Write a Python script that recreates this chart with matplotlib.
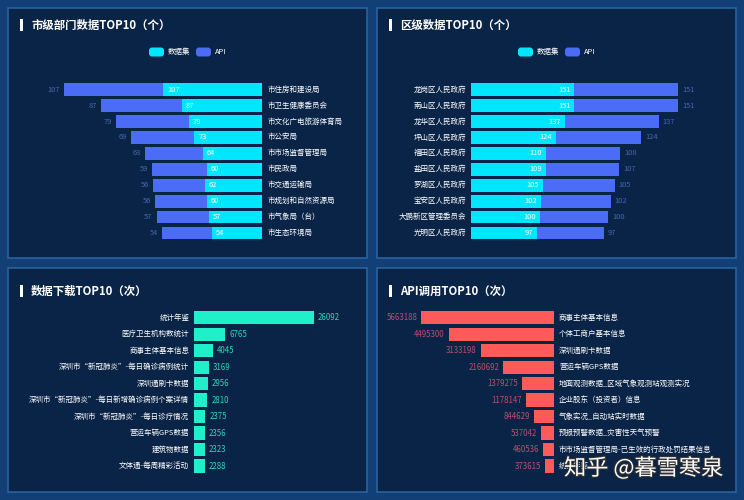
import matplotlib
matplotlib.use("Agg")
import matplotlib.pyplot as plt
from matplotlib.patches import Rectangle, FancyBboxPatch
from matplotlib.transforms import IdentityTransform
import matplotlib.patheffects as pe

plt.rcParams['font.family'] = ['Noto Sans CJK SC', 'DejaVu Sans']

# ---------------- data ----------------
city_depts = ["市住房和建设局", "市卫生健康委员会", "市文化广电旅游体育局", "市公安局",
              "市市场监督管理局", "市民政局", "市交通运输局", "市规划和自然资源局",
              "市气象局（台）", "市生态环境局"]
city_dataset = [107, 87, 79, 73, 64, 60, 62, 60, 57, 54]
city_api = [107, 87, 79, 69, 63, 59, 56, 56, 57, 54]

districts = ["龙岗区人民政府", "南山区人民政府", "龙华区人民政府", "坪山区人民政府",
             "福田区人民政府", "盐田区人民政府", "罗湖区人民政府", "宝安区人民政府",
             "大鹏新区管理委员会", "光明区人民政府"]
dist_dataset = [151, 151, 137, 124, 110, 109, 105, 102, 100, 97]
dist_api = [151, 151, 137, 124, 108, 107, 105, 102, 100, 97]

download_names = ["统计年鉴", "医疗卫生机构数统计", "商事主体基本信息",
                  "深圳市“新冠肺炎”-每日确诊病例统计", "深圳通刷卡数据",
                  "深圳市“新冠肺炎”-每日新增确诊病例个案详情",
                  "深圳市“新冠肺炎”-每日诊疗情况", "营运车辆GPS数据", "建筑物数据",
                  "文体通-每周精彩活动"]
download_counts = [26092, 6765, 4045, 3169, 2956, 2810, 2375, 2356, 2323, 2288]

api_names = ["商事主体基本信息", "个体工商户基本信息", "深圳通刷卡数据", "营运车辆GPS数据",
             "地面观测数据_区域气象观测站观测实况", "企业股东（投资者）信息",
             "气象实况_自动站实时数据", "预报预警数据_灾害性天气预警",
             "市市场监督管理局-已生效的行政处罚结果信息", "统计年鉴"]
api_counts = [5663188, 4495300, 3133198, 2160692, 1379275, 1178147, 844629, 537042,
              460536, 373615]

titles = ["市级部门数据TOP10（个）", "区级数据TOP10（个）", "数据下载TOP10（次）", "API调用TOP10（次）"]
legend_labels = ["数据集", "API"]

# ---------------- style ----------------
W, H = 744, 500
BG_OUT = '#123f76'
BG_PANEL = '#0a2447'
EDGE = '#2a62a0'
CYAN = '#00e6ff'
BLUE = '#4b6cf6'
BLUE_TXT = '#4866ac'
TEAL = '#1ff0c9'
TEAL_TXT = '#2ad6b8'
RED = '#ff5a5a'
RED_TXT = '#b8506a'
WHITE = '#ffffff'
FS = 5.4

fig = plt.figure(figsize=(W / 100, H / 100), dpi=100)
fig.patch.set_facecolor(BG_OUT)
ID = IdentityTransform()


def rect_px(x0, y0, x1, y1, **kw):
    p = Rectangle((x0, H - y1), x1 - x0, y1 - y0, transform=ID, **kw)
    fig.patches.append(p)


def axes_px(l, t, r, b):
    ax = fig.add_axes([l / W, 1 - b / H, (r - l) / W, (b - t) / H])
    ax.set_facecolor('none')
    ax.axis('off')
    ax.set_zorder(2)
    return ax


def text_px(x, y, s, **kw):
    fig.text(x / W, 1 - y / H, s, **kw)


panels = [(8, 8, 367, 258), (377, 8, 736, 258), (8, 268, 367, 492), (377, 268, 736, 492)]
for (x0, y0, x1, y1) in panels:
    rect_px(x0, y0, x1, y1, facecolor=BG_PANEL, edgecolor=EDGE, linewidth=1.2, zorder=-5)

title_pos = [(31, 25), (400, 25), (31, 291), (400, 291)]
for (tx, ty), t in zip(title_pos, titles):
    rect_px(tx - 11, ty - 6, tx - 8, ty + 6, facecolor=WHITE, edgecolor='none', zorder=1)
    text_px(tx, ty, t, color=WHITE, fontsize=8.2, fontweight='bold', va='center', ha='left')


def legend(x, y):
    for dx, col, lab in [(0, CYAN, legend_labels[0]), (47, BLUE, legend_labels[1])]:
        p = FancyBboxPatch((x + dx, H - y - 4.5), 15, 9, boxstyle="round,pad=0,rounding_size=3",
                           transform=ID, facecolor=col, edgecolor='none', zorder=1)
        fig.patches.append(p)
        text_px(x + dx + 19, y, lab, color=WHITE, fontsize=FS, va='center', ha='left')


legend(149, 52)
legend(518, 52)

n = 10
ypos = list(range(n))

# ---------- chart 1 : city departments (bars to the left) ----------
s1 = 0.925
ax1 = axes_px(262 - 250 * s1, 89.7 - 7.97, 262, 233 + 7.97)
ax1.set_xlim(250, 0)
ax1.set_ylim(n - 0.5, -0.5)
ax1.barh(ypos, city_dataset, height=0.8, color=CYAN)
ax1.barh(ypos, city_api, left=city_dataset, height=0.8, color=BLUE)
for i in range(n):
    ax1.annotate(str(city_dataset[i]), (city_dataset[i], i), xytext=(4, 0), textcoords='offset pixels',
                 ha='left', va='center', color=WHITE, fontsize=FS)
    ax1.annotate(str(city_api[i]), (city_dataset[i] + city_api[i], i), xytext=(-4, 0),
                 textcoords='offset pixels', ha='right', va='center', color=BLUE_TXT, fontsize=FS)
    ax1.annotate(city_depts[i], (0, i), xytext=(6, 0), textcoords='offset pixels',
                 ha='left', va='center', color=WHITE, fontsize=FS, annotation_clip=False)

# ---------- chart 2 : districts (bars to the right) ----------
s2 = 0.685
ax2 = axes_px(471, 89.7 - 7.97, 471 + 320 * s2, 233 + 7.97)
ax2.set_xlim(0, 320)
ax2.set_ylim(n - 0.5, -0.5)
ax2.barh(ypos, dist_dataset, height=0.8, color=CYAN)
ax2.barh(ypos, dist_api, left=dist_dataset, height=0.8, color=BLUE)
for i in range(n):
    ax2.annotate(str(dist_dataset[i]), (dist_dataset[i], i), xytext=(-4, 0), textcoords='offset pixels',
                 ha='right', va='center', color=WHITE, fontsize=FS)
    ax2.annotate(str(dist_api[i]), (dist_dataset[i] + dist_api[i], i), xytext=(4, 0),
                 textcoords='offset pixels', ha='left', va='center', color=BLUE_TXT, fontsize=FS)
    ax2.annotate(districts[i], (0, i), xytext=(-5, 0), textcoords='offset pixels',
                 ha='right', va='center', color=WHITE, fontsize=FS, annotation_clip=False)

# ---------- chart 3 : downloads ----------
s3 = 0.004576
rs = 16.48
ax3 = axes_px(194.3, 317.7 - rs / 2, 194.3 + 30000 * s3, 466 + rs / 2)
ax3.set_xlim(0, 30000)
ax3.set_ylim(n - 0.5, -0.5)
ax3.barh(ypos, download_counts, height=0.8, color=TEAL)
for i in range(n):
    ax3.annotate(str(download_counts[i]), (download_counts[i], i), xytext=(4, 0),
                 textcoords='offset pixels', ha='left', va='center', color=TEAL_TXT, fontsize=FS + 0.3)
    ax3.annotate(download_names[i], (0, i), xytext=(-5, 0), textcoords='offset pixels',
                 ha='right', va='center', color=WHITE, fontsize=FS, annotation_clip=False)

# ---------- chart 4 : API calls (bars to the left) ----------
s4 = 2.345e-5
ax4 = axes_px(554 - 6.0e6 * s4, 317.7 - rs / 2, 554, 466 + rs / 2)
ax4.set_xlim(6.0e6, 0)
ax4.set_ylim(n - 0.5, -0.5)
ax4.barh(ypos, api_counts, height=0.8, color=RED)
for i in range(n):
    ax4.annotate(str(api_counts[i]), (api_counts[i], i), xytext=(-4, 0),
                 textcoords='offset pixels', ha='right', va='center', color=RED_TXT, fontsize=FS + 0.3,
                 annotation_clip=False)
    ax4.annotate(api_names[i], (0, i), xytext=(5, 0), textcoords='offset pixels',
                 ha='left', va='center', color=WHITE, fontsize=FS, annotation_clip=False)

# watermark
wm = fig.text(564 / W, 1 - 468 / H, "知乎 @暮雪寒泉", color=WHITE, fontsize=16, ha='left', va='center',
              path_effects=[pe.withStroke(linewidth=1.5, foreground='#333333')])
wm.set_zorder(10)

fig.savefig("out.png", dpi=100, facecolor=fig.get_facecolor())
